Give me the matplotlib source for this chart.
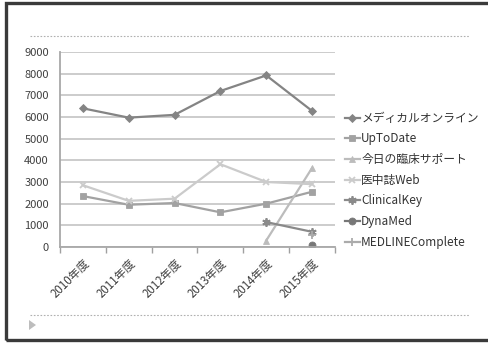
import numpy as np
import matplotlib
matplotlib.use("Agg")
import matplotlib.pyplot as plt
from matplotlib.patches import Rectangle, Polygon
from matplotlib.lines import Line2D

plt.rcParams["font.family"] = ["Noto Sans CJK JP", "DejaVu Sans"]

years = ["2010年度", "2011年度", "2012年度", "2013年度", "2014年度", "2015年度"]
nan = np.nan
medical_online = [6400, 5970, 6100, 7200, 7920, 6280]
uptodate = [2350, 1950, 2030, 1600, 2000, 2550]
kyou_no_rinsho = [nan, nan, nan, nan, 300, 3650]
ichushi_web = [2850, 2130, 2230, 3820, 3000, 2900]
clinical_key = [nan, nan, nan, nan, 1150, 700]
dynamed = [nan, nan, nan, nan, nan, 90]
medline_complete = [nan, nan, nan, nan, nan, 540]

series = [
    ("メディカルオンライン", medical_online, "#848484", "D", 4),
    ("UpToDate", uptodate, "#a2a2a2", "s", 5),
    ("今日の臨床サポート", kyou_no_rinsho, "#bcbcbc", "^", 5),
    ("医中誌Web", ichushi_web, "#cbcbcb", "x", 5),
    ("ClinicalKey", clinical_key, "#8a8a8a", (6, 2, 0), 6),
    ("DynaMed", dynamed, "#777777", "o", 5),
    ("MEDLINEComplete", medline_complete, "#ababab", "+", 6),
]

W, H = 488, 343
fig = plt.figure(figsize=(W / 100, H / 100), dpi=100)
fig.patch.set_facecolor("white")

# outer frame
fig.patches.append(Rectangle((6 / W, 3 / H), 1.0, 1 - 6 / H, transform=fig.transFigure,
                             fill=False, edgecolor="#3a3a3a", linewidth=2.4))
fig.lines.append(Line2D([30 / W, 470 / W], [1 - 36 / H] * 2, transform=fig.transFigure,
                        color="#b0b0b0", linewidth=0.8, linestyle=(0, (1.5, 1.5))))
fig.lines.append(Line2D([30 / W, 470 / W], [1 - 315 / H] * 2, transform=fig.transFigure,
                        color="#b0b0b0", linewidth=0.8, linestyle=(0, (1.5, 1.5))))
fig.patches.append(Polygon([(29 / W, 1 - 320 / H), (29 / W, 1 - 330 / H), (36 / W, 1 - 325 / H)],
                           closed=True, transform=fig.transFigure,
                           facecolor="#bdbdbd", edgecolor="none"))

ax = fig.add_axes([60 / W, 1 - 247 / H, 275 / W, 195 / H])
x = np.arange(len(years))
for name, vals, color, marker, ms in series:
    ax.plot(x, vals, color=color, linewidth=1.6, marker=marker, markersize=ms,
            markeredgewidth=1.3 if marker in ("x", "+", (6, 2, 0)) else 0.6,
            markeredgecolor=color, markerfacecolor=color, label=name)

ax.set_xlim(-0.5, len(years) - 0.5)
ax.set_ylim(0, 9000)
ax.set_yticks(np.arange(0, 9001, 1000))
ax.set_xticks(np.arange(-0.5, len(years)), minor=False)
ax.set_xticklabels([])
ax.set_xticks(x, minor=True)
ax.set_xticklabels(years, minor=True, rotation=45, ha="right", va="top",
                   rotation_mode="anchor", fontsize=8.3, color="#404040")
ax.tick_params(axis="x", which="minor", length=0, pad=7)
ax.tick_params(axis="x", which="major", length=4, color="#a0a0a0", width=1)
ax.tick_params(axis="y", length=0, labelsize=8, labelcolor="#404040", pad=8)
ax.grid(axis="y", color="#c4c4c4", linewidth=1.2)
ax.set_axisbelow(True)
for side in ("top", "right"):
    ax.spines[side].set_visible(False)
for side in ("left", "bottom"):
    ax.spines[side].set_color("#a8a8a8")
    ax.spines[side].set_linewidth(1.3)

fig.legend(loc="upper left", bbox_to_anchor=(340 / W, 1 - 107 / H), frameon=False,
           fontsize=8.5, handlelength=1.3, handletextpad=0.1, labelspacing=0.65,
           borderaxespad=0, labelcolor="#333333")

fig.savefig("out.png", dpi=100, facecolor="white")
